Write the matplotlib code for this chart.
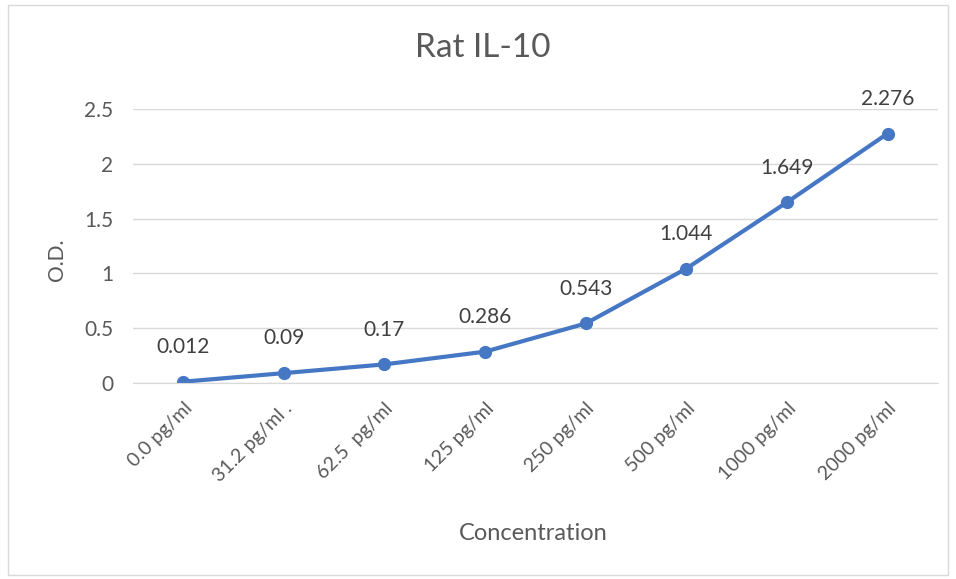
import matplotlib.pyplot as plt
from matplotlib.patches import Rectangle

concentrations = ['0.0 pg/ml', '31.2 pg/ml .', '62.5  pg/ml', '125 pg/ml',
                  '250 pg/ml', '500 pg/ml', '1000 pg/ml', '2000 pg/ml']
od_values = [0.012, 0.09, 0.17, 0.286, 0.543, 1.044, 1.649, 2.276]
od_labels = ['0.012', '0.09', '0.17', '0.286', '0.543', '1.044', '1.649', '2.276']

plt.rcParams['font.family'] = ['Lato', 'DejaVu Sans']
text_grey = '#595959'
line_blue = '#4677C4'

fig = plt.figure(figsize=(9.56, 5.79), dpi=100)
ax = fig.add_axes([0.139, 0.3385, 0.842, 0.4732])

x = list(range(len(concentrations)))
ax.plot(x, od_values, color=line_blue, linewidth=3, marker='o', markersize=8.5)

for xi, yi, lab in zip(x, od_values, od_labels):
    ax.annotate(lab, (xi, yi), xytext=(0, 25), textcoords='offset points',
                ha='center', va='center', fontsize=15, color='#404040')

ax.set_xlim(-0.5, len(concentrations) - 0.5)
ax.set_ylim(0, 2.5)
ax.set_yticks([0, 0.5, 1, 1.5, 2, 2.5])
ax.set_yticklabels(['0', '0.5', '1', '1.5', '2', '2.5'])
ax.set_xticks(x)
ax.set_xticklabels(concentrations, rotation=45, ha='right', rotation_mode='anchor')
ax.tick_params(axis='y', length=0, labelsize=15, colors=text_grey, pad=14)
ax.tick_params(axis='x', length=0, labelsize=14, colors=text_grey, pad=12)

ax.grid(axis='y', color='#D9D9D9', linewidth=1)
ax.set_axisbelow(True)
for side in ['top', 'right', 'left']:
    ax.spines[side].set_visible(False)
ax.spines['bottom'].set_color('#D9D9D9')

ax.set_ylabel('O.D.', fontsize=15, color=text_grey)
ax.yaxis.set_label_coords(-0.082, 0.45)

fig.text(483 / 956, 1 - 48 / 579, 'Rat IL-10', fontsize=24, color=text_grey,
         ha='center', va='center')
fig.text(533 / 956, 1 - 533 / 579, 'Concentration', fontsize=17, color=text_grey,
         ha='center', va='center')

# chart border
fig.patches.append(Rectangle((8 / 956, 4 / 579), 940 / 956, 570 / 579,
                             transform=fig.transFigure, fill=False,
                             edgecolor='#D9D9D9', linewidth=1))

fig.savefig('out.png', dpi=100)
